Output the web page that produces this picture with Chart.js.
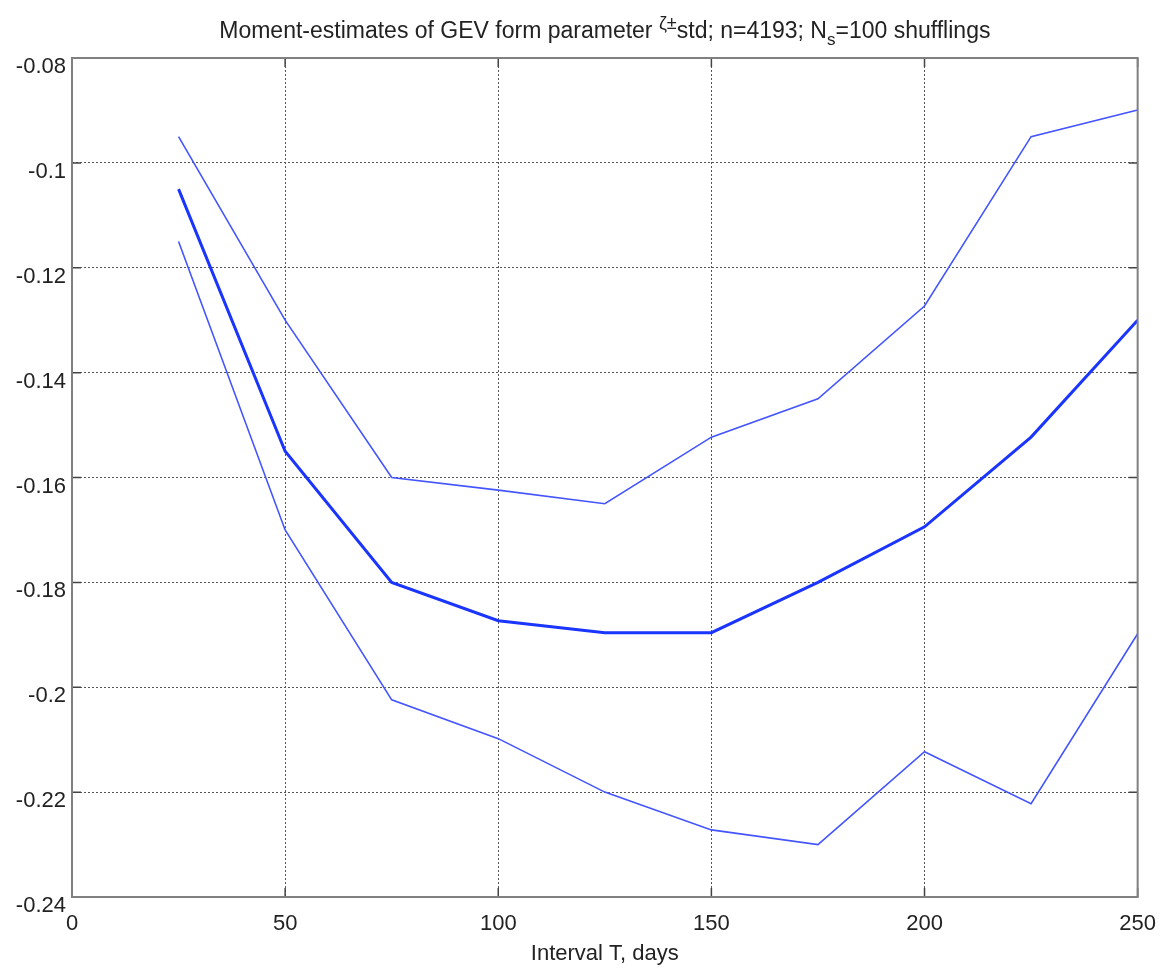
<!DOCTYPE html>
<html>
<head>
<meta charset="utf-8">
<script src="https://cdn.jsdelivr.net/npm/chart.js@4/dist/chart.umd.min.js"></script>
<style>
  html, body { margin: 0; padding: 0; background: #fff; }
  #wrap { width: 1170px; height: 969px; }
</style>
</head>
<body>
<div id="wrap"><canvas id="gevChart"></canvas></div>
<script>
// interval lengths T (days)
const intervals = [25, 50, 75, 100, 125, 150, 175, 200, 225, 250];
// mean estimate of the form parameter
const zetaMean = [-0.105, -0.155, -0.180, -0.1873, -0.1896, -0.1896, -0.180, -0.1694, -0.1523, -0.130];
// mean + std
const zetaUpper = [-0.095, -0.130, -0.160, -0.1624, -0.165, -0.1523, -0.145, -0.1273, -0.095, -0.0899];
// mean - std
const zetaLower = [-0.115, -0.170, -0.2024, -0.2098, -0.220, -0.2272, -0.230, -0.2123, -0.2222, -0.1898];

const yTicks = [-0.24, -0.22, -0.2, -0.18, -0.16, -0.14, -0.12, -0.1, -0.08];
const xTicks = [0, 50, 100, 150, 200, 250];

const FONT = 'Liberation Sans, Arial, sans-serif';

const toPoints = (ys) => intervals.map((x, i) => ({ x: x, y: ys[i] }));

// title with super/subscripts, drawn piece by piece
const titlePlugin = {
    id: 'matTitle',
    afterDraw(chart) {
        const ctx = chart.ctx;
        const parts = [
            { t: 'Moment-estimates of GEV form parameter ', size: 23, dy: 0 },
            { t: 'ζ±', size: 18, dy: -9 },
            { t: 'std; n=4193; N', size: 23, dy: 0 },
            { t: 's', size: 17, dy: 7 },
            { t: '=100 shufflings', size: 23, dy: 0 }
        ];
        ctx.save();
        ctx.fillStyle = '#222';
        ctx.textBaseline = 'alphabetic';
        let total = 0;
        parts.forEach(p => {
            ctx.font = p.size + 'px ' + FONT;
            p.w = ctx.measureText(p.t).width;
            total += p.w;
        });
        const area = chart.chartArea;
        let x = (area.left + area.right) / 2 - total / 2;
        parts.forEach(p => {
            ctx.font = p.size + 'px ' + FONT;
            ctx.textAlign = 'left';
            ctx.fillText(p.t, x, 38 + p.dy);
            x += p.w;
        });
        ctx.restore();
    }
};

// box around the axes plus inward tick marks on all four sides
const boxPlugin = {
    id: 'matBox',
    afterDatasetsDraw(chart) {
        const ctx = chart.ctx;
        const a = chart.chartArea;
        const xs = chart.scales.x, ys = chart.scales.y;
        ctx.save();
        ctx.strokeStyle = '#444';
        ctx.lineWidth = 1.5;
        ctx.beginPath();
        xTicks.forEach(v => {
            const px = xs.getPixelForValue(v);
            ctx.moveTo(px, a.bottom); ctx.lineTo(px, a.bottom - 9);
            ctx.moveTo(px, a.top); ctx.lineTo(px, a.top + 9);
        });
        yTicks.forEach(v => {
            const py = ys.getPixelForValue(v);
            ctx.moveTo(a.left, py); ctx.lineTo(a.left + 9, py);
            ctx.moveTo(a.right, py); ctx.lineTo(a.right - 9, py);
        });
        ctx.stroke();
        ctx.strokeStyle = '#808080';
        ctx.lineWidth = 2;
        ctx.strokeRect(a.left, a.top, a.right - a.left, a.bottom - a.top);
        ctx.restore();
    }
};

new Chart(document.getElementById('gevChart').getContext('2d'), {
    type: 'line',
    data: {
        datasets: [
            {
                label: 'mean + std',
                data: toPoints(zetaUpper),
                borderColor: '#4455ff',
                borderWidth: 1.6,
                pointRadius: 0,
                tension: 0
            },
            {
                label: 'mean',
                data: toPoints(zetaMean),
                borderColor: '#1a35ff',
                borderWidth: 3,
                pointRadius: 0,
                tension: 0
            },
            {
                label: 'mean - std',
                data: toPoints(zetaLower),
                borderColor: '#4455ff',
                borderWidth: 1.6,
                pointRadius: 0,
                tension: 0
            }
        ]
    },
    options: {
        responsive: true,
        maintainAspectRatio: false,
        animation: false,
        layout: { padding: { top: 58, right: 32, left: 0, bottom: 0 } },
        plugins: {
            legend: { display: false },
            title: { display: false },
            tooltip: { enabled: false }
        },
        scales: {
            x: {
                type: 'linear',
                min: 0,
                max: 250,
                afterFit: (s) => { s.height = 72; },
                afterBuildTicks: (s) => { s.ticks = xTicks.map(v => ({ value: v })); },
                border: { display: false, dash: [2, 2] },
                grid: {
                    color: '#555',
                    lineWidth: 1,
                    drawTicks: false
                },
                ticks: {
                    padding: 14,
                    color: '#222',
                    font: { family: FONT, size: 22 },
                    maxRotation: 0
                },
                title: {
                    display: true,
                    text: 'Interval T, days',
                    color: '#222',
                    font: { family: FONT, size: 22 },
                    padding: { top: 0, bottom: 2 }
                }
            },
            y: {
                min: -0.24,
                max: -0.08,
                afterFit: (s) => { s.width = 72; },
                afterBuildTicks: (s) => { s.ticks = yTicks.map(v => ({ value: v })); },
                border: { display: false, dash: [2, 2] },
                grid: {
                    color: '#555',
                    lineWidth: 1,
                    drawTicks: false
                },
                ticks: {
                    padding: 6,
                    labelOffset: 9,
                    color: '#222',
                    font: { family: FONT, size: 22 },
                    callback: (v) => String(parseFloat(Number(v).toFixed(2)))
                }
            }
        }
    },
    plugins: [titlePlugin, boxPlugin]
});
</script>
</body>
</html>
